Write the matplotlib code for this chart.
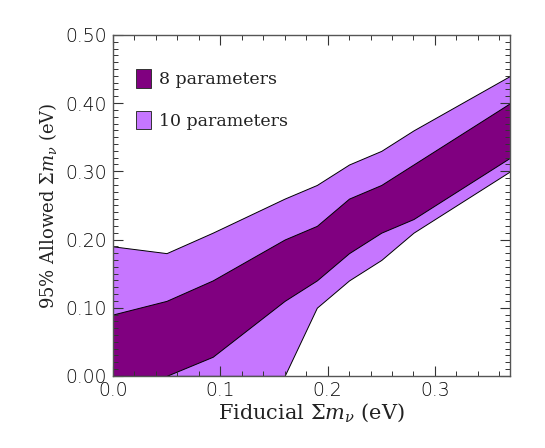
import matplotlib
matplotlib.use("Agg")
import matplotlib.pyplot as plt
from matplotlib.patches import Patch
from matplotlib.ticker import MultipleLocator, FormatStrFormatter

# fiducial sum of neutrino masses (eV)
fiducial = [0.0, 0.05, 0.093, 0.16, 0.19, 0.22, 0.25, 0.28, 0.37]

# 95% allowed range, 8 parameter fit
lo_8 = [0.0, 0.0, 0.028, 0.11, 0.14, 0.18, 0.21, 0.23, 0.32]
hi_8 = [0.09, 0.11, 0.14, 0.20, 0.22, 0.26, 0.28, 0.31, 0.40]

# 95% allowed range, 10 parameter fit
lo_10 = [0.0, 0.0, 0.0, 0.0, 0.10, 0.14, 0.17, 0.21, 0.30]
hi_10 = [0.19, 0.18, 0.21, 0.26, 0.28, 0.31, 0.33, 0.36, 0.44]

dark = "#800080"
light = "#C676FF"

plt.rcParams['mathtext.fontset'] = 'dejavuserif'

fig = plt.figure(figsize=(5.45, 4.48), dpi=100)
ax = fig.add_axes([0.207, 0.161, 0.729, 0.761])

ax.fill_between(fiducial, lo_10, hi_10, facecolor=light, edgecolor="black", linewidth=0.7)
ax.fill_between(fiducial, lo_8, hi_8, facecolor=dark, edgecolor="black", linewidth=0.7)

ax.set_xlim(0, 0.37)
ax.set_ylim(0, 0.5)

ax.xaxis.set_major_locator(MultipleLocator(0.1))
ax.xaxis.set_minor_locator(MultipleLocator(0.02))
ax.yaxis.set_major_locator(MultipleLocator(0.1))
ax.yaxis.set_minor_locator(MultipleLocator(0.01))
ax.xaxis.set_major_formatter(FormatStrFormatter("%.1f"))
ax.yaxis.set_major_formatter(FormatStrFormatter("%.2f"))

ax.tick_params(which="both", direction="in", top=True, right=True, color="#333333")
ax.tick_params(which="major", length=7, width=0.8, labelsize=13.5, pad=4, labelcolor="#0a0a0a")
ax.tick_params(which="minor", length=3.5, width=0.7)
for lab in ax.get_xticklabels() + ax.get_yticklabels():
    lab.set_fontweight(200)

for sp in ax.spines.values():
    sp.set_color("#555555")
    sp.set_linewidth(1.0)

ax.set_xlabel(r"Fiducial $\Sigma m_\nu$ (eV)", family="DejaVu Serif", fontsize=15, color="#222222", labelpad=1)
ax.set_ylabel(r"95% Allowed $\Sigma m_\nu$ (eV)", family="DejaVu Serif", fontsize=13, color="#222222", labelpad=5)

handles = [Patch(facecolor=dark, edgecolor="#333333", linewidth=0.7, label="8 parameters"),
           Patch(facecolor=light, edgecolor="#333333", linewidth=0.7, label="10 parameters")]
ax.legend(handles=handles, loc="upper left", bbox_to_anchor=(0.02, 0.945), frameon=False,
          handlelength=0.85, handleheight=1.25, handletextpad=0.45, labelspacing=1.3,
          prop={"family": "DejaVu Serif", "size": 12.5}, labelcolor="#222222")

fig.savefig("out.png", dpi=100)
